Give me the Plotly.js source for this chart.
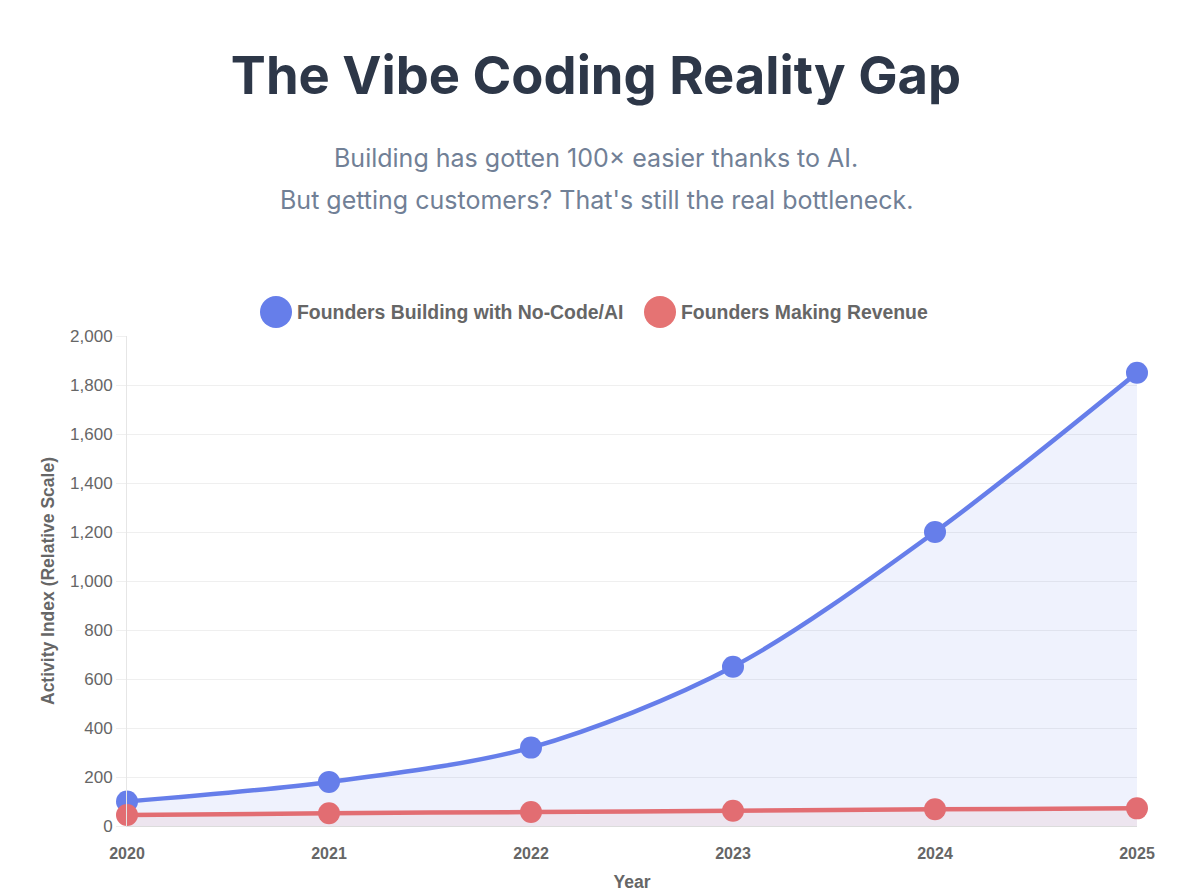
<!DOCTYPE html>
<html>
<head>
<meta charset="utf-8">
<script src="https://cdn.plot.ly/plotly-3.0.1.min.js"></script>
<style>
html,body{margin:0;padding:0;background:#fff;}
#chart{width:1200px;height:894px;}
</style>
</head>
<body>
<div id="chart"></div>
<script>
const years = [2020, 2021, 2022, 2023, 2024, 2025];
const buildingValues = [100, 180, 320, 650, 1200, 1850];
const revenueValues = [45, 52, 57, 62, 68, 72];
const seriesNames = ["Founders Building with No-Code/AI", "Founders Making Revenue"];
const yTicks = [0, 200, 400, 600, 800, 1000, 1200, 1400, 1600, 1800, 2000];
const titleText = "The Vibe Coding Reality Gap";
const subtitleLines = ["Building has gotten 100× easier thanks to AI.", "But getting customers? That's still the real bottleneck."];
const xTitle = "Year";
const yTitle = "Activity Index (Relative Scale)";

const blue = "#667eea";
const red = "#e26d72";
const labelFont = "Liberation Sans, Arial, Helvetica, sans-serif";

const traces = [
  {
    x: years, y: buildingValues, name: seriesNames[0], type: "scatter", mode: "lines+markers",
    line: {color: blue, width: 4.5, shape: "spline", smoothing: 0.9},
    marker: {color: blue, size: 22},
    fill: "tozeroy", fillcolor: "rgba(102,126,234,0.10)",
    cliponaxis: false, showlegend: false, hoverinfo: "x+y"
  },
  {
    x: years, y: revenueValues, name: seriesNames[1], type: "scatter", mode: "lines+markers",
    line: {color: red, width: 4.5, shape: "spline", smoothing: 0.9},
    marker: {color: red, size: 22},
    fill: "tozeroy", fillcolor: "rgba(229,115,115,0.10)",
    cliponaxis: false, showlegend: false, hoverinfo: "x+y"
  }
];

const plotW = 1200 - 127 - 63;
function pxToPaperX(px){ return (px - 127) / plotW; }

const shapes = [];
const annotations = [];
const legendY = 1 + (336 - 312) / 490;
[[276, 295, blue, seriesNames[0]], [660, 679, "#e57373", seriesNames[1]]].forEach(function(it){
  shapes.push({type: "circle", xref: "paper", yref: "paper", xsizemode: "pixel", ysizemode: "pixel",
    xanchor: pxToPaperX(it[0]), yanchor: legendY, x0: -16, x1: 16, y0: -16, y1: 16,
    fillcolor: it[2], line: {width: 0}});
  annotations.push({xref: "paper", yref: "paper", x: pxToPaperX(it[1]), y: legendY, xanchor: "left", yanchor: "middle",
    text: "<b>" + it[3] + "</b>", showarrow: false, font: {family: labelFont, size: 19.4, color: "#666"}});
});
annotations.push({xref: "paper", yref: "paper", x: pxToPaperX(596), y: 1 + (336 - 158) / 490, xanchor: "center", yanchor: "middle",
  text: subtitleLines[0], showarrow: false, font: {family: "Inter, Noto Sans, sans-serif", size: 25, color: "#718096"}});
annotations.push({xref: "paper", yref: "paper", x: pxToPaperX(596), y: 1 + (336 - 200) / 490, xanchor: "center", yanchor: "middle",
  text: subtitleLines[1], showarrow: false, font: {family: "Inter, Noto Sans, sans-serif", size: 25, color: "#718096"}});

const layout = {
  width: 1200, height: 894,
  margin: {l: 127, r: 63, t: 336, b: 68},
  paper_bgcolor: "#fff", plot_bgcolor: "#fff",
  title: {text: "<b>" + titleText + "</b>", x: 596/1200, xanchor: "center", y: 1 - 76/894, yanchor: "middle",
    font: {family: "Inter, Noto Sans, sans-serif", size: 52.5, color: "#2d3748"}},
  showlegend: false,
  xaxis: {
    type: "linear", range: [years[0], years[years.length-1]], tickvals: years, ticktext: years.map(function(y){return "<b>"+y+"</b>";}),
    showgrid: false, zeroline: false, showline: true, linecolor: "#dcdcdc", linewidth: 1,
    ticks: "", ticklabelstandoff: 13,
    tickfont: {family: labelFont, size: 16, color: "#666"},
    title: {text: "<b>" + xTitle + "</b>", font: {family: labelFont, size: 17.5, color: "#666"}, standoff: 14}
  },
  yaxis: {
    range: [0, 2000], tickvals: yTicks, tickformat: ",d",
    showgrid: true, gridcolor: "#efefef", gridwidth: 1, zeroline: false,
    showline: true, linecolor: "#e6e6e6", linewidth: 1,
    ticks: "outside", ticklen: 10, tickcolor: "#efefef",
    tickfont: {family: labelFont, size: 17, color: "#666"},
    title: {text: "<b>" + yTitle + "</b>", font: {family: labelFont, size: 17.5, color: "#666"}, standoff: 10}
  },
  shapes: shapes,
  annotations: annotations
};

Plotly.newPlot("chart", traces, layout, {displayModeBar: false, staticPlot: true});
</script>
</body>
</html>
